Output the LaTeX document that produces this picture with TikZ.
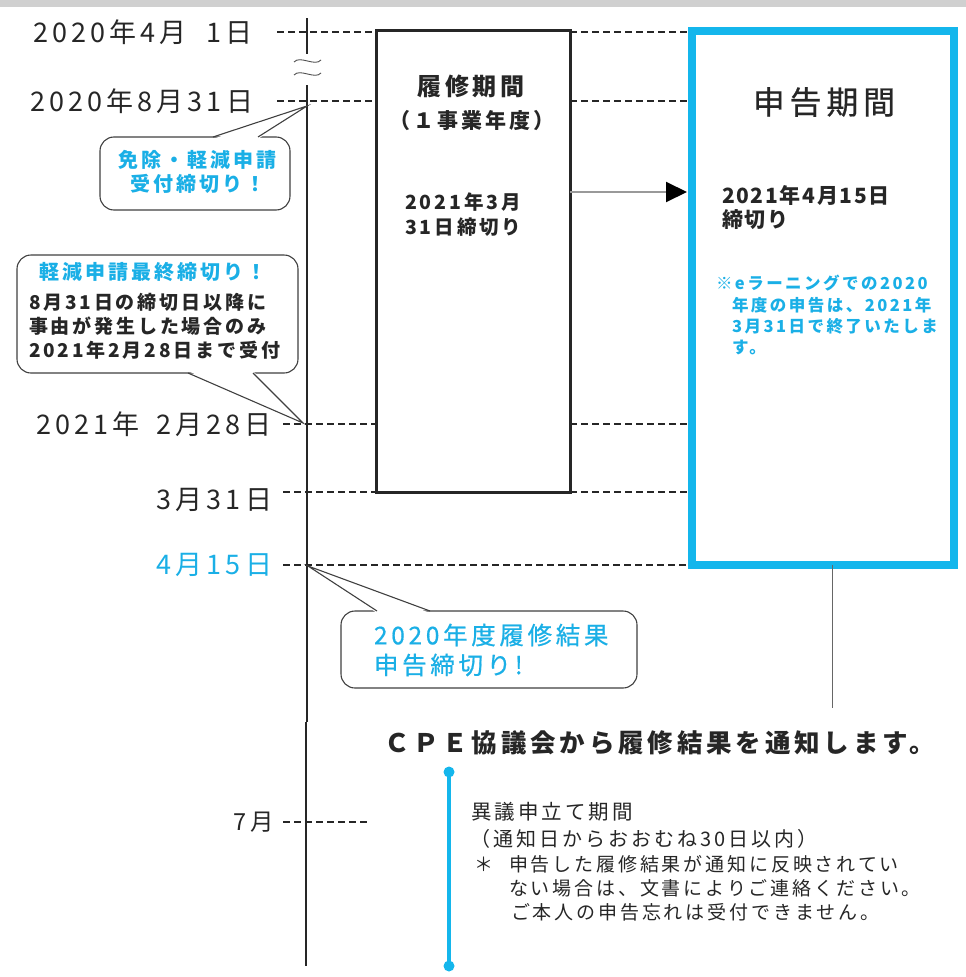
\documentclass[tikz,border=0pt]{standalone}
\usepackage{fontspec}
\setmainfont{Noto Sans CJK JP}
\newfontfamily\jp[LetterSpace=15]{Noto Sans CJK JP}
\newfontfamily\jpn[LetterSpace=8]{Noto Sans CJK JP}
\newfontfamily\jpm[LetterSpace=15,FakeBold=0.6]{Noto Sans CJK JP}
\usetikzlibrary{arrows.meta}
\definecolor{cy}{HTML}{14B6EC}
\definecolor{cytxt}{HTML}{1AAFE6}
\definecolor{txt}{HTML}{262626}
\definecolor{barg}{HTML}{D0D0D0}
\newcommand\myfs[1]{\fontsize{#1}{#1}\selectfont}
\begin{document}
\begin{tikzpicture}[x=1pt,y=-1pt,
  every node/.style={inner sep=0pt,outer sep=0pt},
  lab/.style={text=txt},
  datelab/.style={text=txt,anchor=east,font=\jp\myfs{27}},
  dl/.style={draw=txt,line width=1.1pt,dash pattern=on 7pt off 4pt},
  tl/.style={draw=txt,line width=1.3pt},
  bubble/.style={draw=black!75,line width=1.1pt,fill=white,rounded corners=14pt},
  bubline/.style={draw=black!75,line width=1.1pt,line join=miter},
  periodbox/.style={draw=txt,line width=3pt},
  reportbox/.style={draw=cy,line width=8pt},
  arrowline/.style={draw=black!40,line width=2pt,-{Triangle[length=21pt,width=20pt,color=black]}},
]
\useasboundingbox (0,0) rectangle (966,977);
\fill[barg] (0,0) rectangle (966,7);

% timeline
\draw[tl] (307,18) -- (307,54);
\draw[black!70,line width=0.9pt] (294,62) .. controls (300,55) and (315,67) .. (321,60);
\draw[black!70,line width=0.9pt] (294,75) .. controls (300,68) and (315,80) .. (321,73);
\draw[tl] (307,85) -- (307,722);
\draw[tl] (306,722) -- (306,966);

% boxes
\node[periodbox,minimum width=194pt,minimum height=462pt] (rb) at (473,261) {};
\node[reportbox,minimum width=262pt,minimum height=534pt] (sb) at (823,298) {};

% date labels
\node[datelab] (d1) at (253,32) {2020年4月\hspace{20pt}1日};
\node[datelab] (d2) at (253,101) {2020年8月31日};
\node[datelab] (d3) at (272,424) {2021年\hspace{17pt}2月28日};
\node[datelab] (d4) at (272,500) {3月31日};
\node[datelab,text=cytxt] (d5) at (272,565) {4月15日};
\node[datelab,font=\jp\myfs{23.5}] (d6) at (274,822) {7月};

% dashed lines
\draw[dl] (277,32) -- (rb.west |- 0,32);
\draw[dl] (rb.east |- 0,32) -- (sb.west |- 0,32);
\draw[dl] (277,101) -- (rb.west |- 0,101);
\draw[dl] (rb.east |- 0,101) -- (sb.west |- 0,101);
\draw[dl] (283,424) -- (rb.west |- 0,424);
\draw[dl] (rb.east |- 0,424) -- (sb.west |- 0,424);
\draw[dl] (283,492) -- (rb.south west);
\draw[dl] (rb.south east) -- (sb.west |- 0,492);
\draw[dl] (283,565) -- (sb.west |- 0,565);
\draw[dl] (283,822) -- (370,822);

% redraw boxes on top
\draw[periodbox] (rb.north west) rectangle (rb.south east);
\draw[reportbox] (sb.north west) rectangle (sb.south east);

% arrow
\draw[arrowline,shorten >=5pt] (rb.east |- 0,192) -- (sb.west |- 0,192);
% line below report box
\coordinate (vb) at (832,708);
\draw[black!60,line width=1pt] (sb.south -| vb) -- (vb);

% texts in period box
\node[lab,font=\jp\myfs{24}\bfseries] (t1) at (471,86) {履修期間};
\node[lab,font=\jp\myfs{21}\bfseries] (t2) at (472,121) {（１事業年度）};
\node[lab,anchor=west,font=\jp\myfs{19.5}\bfseries] (t3) at (405,202) {2021年3月};
\node[lab,anchor=west,font=\jp\myfs{19.5}\bfseries] (t4) at (405,227) {31日締切り};

% texts in report box
\node[lab,font=\jpm\myfs{32}] (s1) at (824,102) {申告期間};
\node[lab,anchor=west,font=\jpn\myfs{21}\bfseries] (s2) at (722,195) {2021年4月15日};
\node[lab,anchor=west,font=\jpn\myfs{21}\bfseries] (s3) at (722,220) {締切り};
\node[anchor=west,text=cytxt,font=\jp\myfs{16.5}\bfseries] (s4) at (716,283) {※eラーニングでの2020};
\node[anchor=west,text=cytxt,font=\jp\myfs{16.5}\bfseries] (s5) at (732,305) {年度の申告は、2021年};
\node[anchor=west,text=cytxt,font=\jp\myfs{16.5}\bfseries] (s6) at (732,326) {3月31日で終了いたしま};
\node[anchor=west,text=cytxt,font=\jp\myfs{16.5}\bfseries] (s7) at (732,347) {す。};

% callout 1
\coordinate (tip1) at (307,106);
\node[bubble,minimum width=190pt,minimum height=73pt] (c1) at (195,173.5) {};
\fill[white] (213,139) -- (tip1) -- (258,139) -- cycle;
\draw[bubline] (213,137) -- (tip1) -- (258,137);
\node[text=cytxt,font=\jp\myfs{20}\bfseries] (c1a) at (197,160) {免除・軽減申請};
\node[text=cytxt,font=\jp\myfs{20}\bfseries] (c1b) at (198,184) {受付締切り！};

% callout 2
\coordinate (tip2) at (303,423);
\node[bubble,minimum width=281pt,minimum height=118pt] (c2) at (157.5,314) {};
\fill[white] (188,371) -- (tip2) -- (253,371) -- cycle;
\draw[bubline] (188,373) -- (tip2) -- (253,373);
\node[text=cytxt,font=\jp\myfs{20}\bfseries] (c2a) at (153,272) {軽減申請最終締切り！};
\node[lab,anchor=west,font=\jp\myfs{19}\bfseries] (c2b) at (29,302) {8月31日の締切日以降に};
\node[lab,anchor=west,font=\jp\myfs{19}\bfseries] (c2c) at (29,326) {事由が発生した場合のみ};
\node[lab,anchor=west,font=\jp\myfs{19}\bfseries] (c2d) at (29,350) {2021年2月28日まで受付};

% callout 3
\coordinate (tip3) at (308,566);
\node[bubble,minimum width=296pt,minimum height=77pt] (c3) at (489,649.5) {};
\fill[white] (377,613) -- (tip3) -- (430,613) -- cycle;
\draw[bubline] (377,611) -- (tip3) -- (430,611);
\node[anchor=west,text=cytxt,font=\jpm\myfs{24.5}] (c3a) at (374,635) {2020年度履修結果};
\node[anchor=west,text=cytxt,font=\jpm\myfs{24.5}] (c3b) at (374,665) {申告締切り!};

% bottom
\node[lab,anchor=west,font=\jp\myfs{25.5}\bfseries] (b1) at (384,743) {ＣＰＥ協議会から履修結果を通知します。};
\coordinate (p1) at (449,772);
\coordinate (p2) at (449,966);
\draw[cy,line width=4.5pt] (p1) -- (p2);
\fill[cy] (p1) circle (5.5pt);
\fill[cy] (p2) circle (5.5pt);
\node[lab,anchor=west,font=\jp\myfs{20.5}] (b2) at (471,812) {異議申立て期間};
\node[lab,anchor=west,font=\jp\myfs{20}] (b3) at (470,839) {（通知日からおおむね30日以内）};
\node[lab,anchor=west,font=\jp\myfs{19}] (b4) at (474,864) {＊};
\node[lab,anchor=west,font=\jp\myfs{19}] (b5) at (509,864) {申告した履修結果が通知に反映されてい};
\node[lab,anchor=west,font=\jp\myfs{19}] (b6) at (509,888) {ない場合は、文書によりご連絡ください。};
\node[lab,anchor=west,font=\jp\myfs{19}] (b7) at (511,912) {ご本人の申告忘れは受付できません。};
\end{tikzpicture}
\end{document}
